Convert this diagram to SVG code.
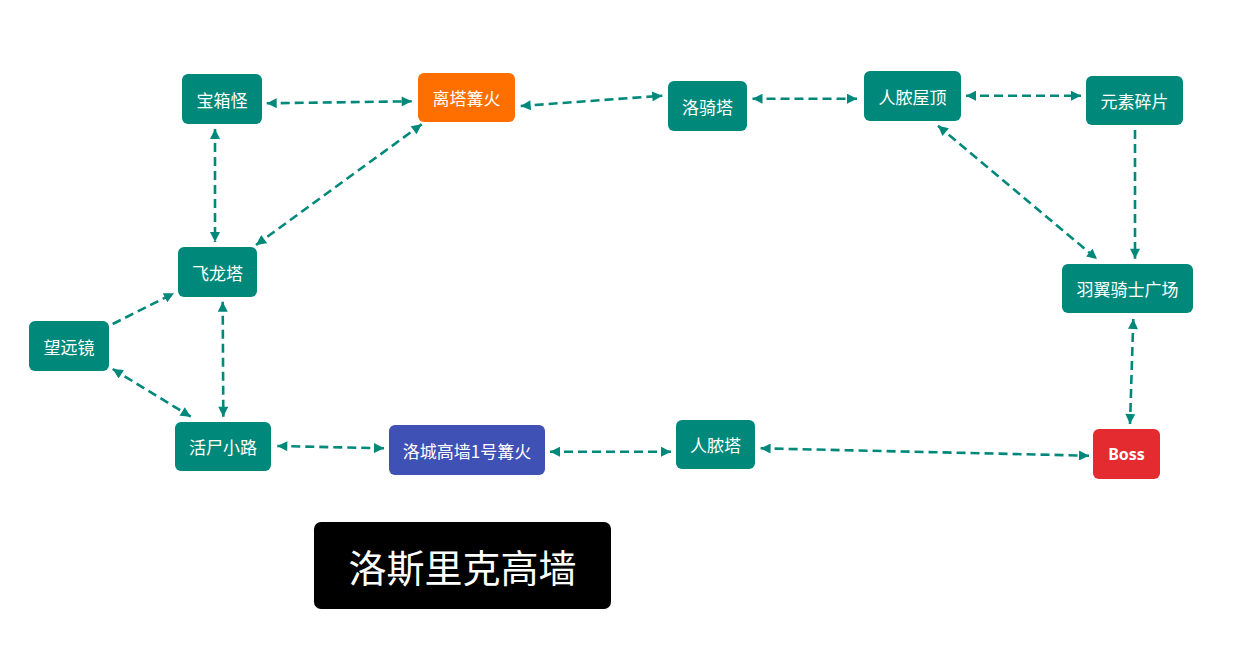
<svg xmlns="http://www.w3.org/2000/svg" width="1248" height="665" viewBox="0 0 1248 665">
<style>
.n rect{stroke:none}
.teal{fill:#00897B}
.t{fill:#ffffff;font-family:"Noto Sans CJK SC","Noto Sans",sans-serif;font-size:17px;text-anchor:middle;dominant-baseline:central}
.c{fill:none;stroke:#00897B;stroke-width:2.6;stroke-dasharray:9 5}
</style>
<defs>
<marker id="ah" viewBox="0 0 10 10" refX="10" refY="5" markerWidth="11" markerHeight="10" markerUnits="userSpaceOnUse" orient="auto-start-reverse">
<path d="M0,0 L10,5 L0,10 z" fill="#00897B"/>
</marker>
</defs>
<rect width="1248" height="665" fill="#ffffff"/>
<g id="connectors">
<line class="c" x1="266.7" y1="103.3" x2="411.7" y2="101.3" marker-start="url(#ah)" marker-end="url(#ah)"/>
<line class="c" x1="215" y1="129" x2="215" y2="242" marker-start="url(#ah)" marker-end="url(#ah)"/>
<line class="c" x1="421.7" y1="124.3" x2="256" y2="245" marker-start="url(#ah)" marker-end="url(#ah)"/>
<line class="c" x1="520.7" y1="106" x2="662.3" y2="95.7" marker-start="url(#ah)" marker-end="url(#ah)"/>
<line class="c" x1="752.5" y1="98.7" x2="857" y2="98.7" marker-start="url(#ah)" marker-end="url(#ah)"/>
<line class="c" x1="966" y1="95.7" x2="1081" y2="95.7" marker-start="url(#ah)" marker-end="url(#ah)"/>
<line class="c" x1="1135" y1="130" x2="1135" y2="258.7" marker-end="url(#ah)"/>
<line class="c" x1="938" y1="125.7" x2="1097" y2="259" marker-start="url(#ah)" marker-end="url(#ah)"/>
<line class="c" x1="112.7" y1="324" x2="174" y2="293.3" marker-end="url(#ah)"/>
<line class="c" x1="222.7" y1="301.7" x2="223.3" y2="416.7" marker-start="url(#ah)" marker-end="url(#ah)"/>
<line class="c" x1="112.7" y1="369" x2="190.7" y2="416.7" marker-start="url(#ah)" marker-end="url(#ah)"/>
<line class="c" x1="277.3" y1="446" x2="384" y2="448.3" marker-start="url(#ah)" marker-end="url(#ah)"/>
<line class="c" x1="550" y1="451.7" x2="671" y2="451.7" marker-start="url(#ah)" marker-end="url(#ah)"/>
<line class="c" x1="760.6" y1="448.3" x2="1089" y2="455.7" marker-start="url(#ah)" marker-end="url(#ah)"/>
<line class="c" x1="1133.3" y1="319" x2="1130" y2="424" marker-start="url(#ah)" marker-end="url(#ah)"/>
</g>
<g id="baoxiangguai" class="n"><rect class="teal" x="182" y="74" width="80" height="50" rx="6"/><text class="t" x="222" y="99">宝箱怪</text></g>
<g id="litagouhuo" class="n"><rect x="418" y="73" width="97" height="49" rx="6" fill="#FF6F00"/><text class="t" x="466.5" y="97.5">离塔篝火</text></g>
<g id="luoqita" class="n"><rect class="teal" x="668" y="81" width="79" height="50" rx="6"/><text class="t" x="707.5" y="106">洛骑塔</text></g>
<g id="rennongwuding" class="n"><rect class="teal" x="864" y="71" width="97" height="50" rx="6"/><text class="t" x="912.5" y="96">人脓屋顶</text></g>
<g id="yuansusuipian" class="n"><rect class="teal" x="1086" y="76" width="97" height="49" rx="6"/><text class="t" x="1134.5" y="100.5">元素碎片</text></g>
<g id="feilongta" class="n"><rect class="teal" x="178" y="247" width="79" height="50" rx="6"/><text class="t" x="217.5" y="272">飞龙塔</text></g>
<g id="yuyiqishiguangchang" class="n"><rect class="teal" x="1062" y="264" width="131" height="49" rx="6"/><text class="t" x="1127.5" y="288.5">羽翼骑士广场</text></g>
<g id="wangyuanjing" class="n"><rect class="teal" x="29" y="321" width="80" height="50" rx="6"/><text class="t" x="69" y="346">望远镜</text></g>
<g id="huoshixiaolu" class="n"><rect class="teal" x="175" y="422" width="96" height="49" rx="6"/><text class="t" x="223" y="446.5">活尸小路</text></g>
<g id="luochenggaoqiang" class="n"><rect x="389" y="425" width="156" height="50" rx="6" fill="#3F51B5"/><text class="t" x="467" y="450">洛城高墙1号篝火</text></g>
<g id="rennongta" class="n"><rect class="teal" x="676" y="420" width="79" height="49" rx="6"/><text class="t" x="715.5" y="444.5">人脓塔</text></g>
<g id="boss" class="n"><rect x="1093" y="429" width="67" height="50" rx="6" fill="#E32B30"/><text class="t" x="1126.5" y="454" style="font-weight:bold;font-size:16px;font-family:'Noto Sans','Liberation Sans',sans-serif">Boss</text></g>
<g id="title" class="n"><rect x="314" y="522" width="297" height="87" rx="7" fill="#000000"/><text class="t" x="462.5" y="565.5" style="font-size:38px">洛斯里克高墙</text></g>
</svg>
